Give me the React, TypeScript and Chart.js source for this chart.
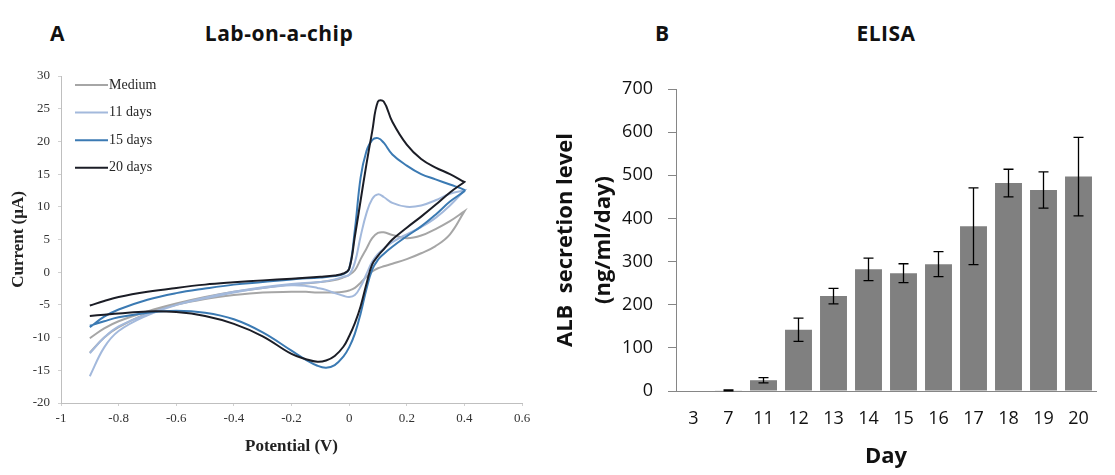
import React, { useEffect, useRef } from "react";
import { Chart, registerables } from "chart.js";

Chart.register(...registerables);

// ---------- Panel A: cyclic voltammograms ----------
const sweepForward = [-0.9, -0.85, -0.8, -0.7, -0.6, -0.5, -0.4, -0.3, -0.2, -0.1, -0.05, -0.02, 0, 0.02, 0.04, 0.06, 0.08, 0.1, 0.12, 0.15, 0.2, 0.25, 0.3, 0.35, 0.4];
const sweepReverse = [0.4, 0.35, 0.3, 0.25, 0.2, 0.15, 0.12, 0.1, 0.08, 0.06, 0.04, 0.02, 0, -0.02, -0.05, -0.08, -0.11, -0.15, -0.2, -0.3, -0.4, -0.5, -0.6, -0.7, -0.8, -0.85, -0.9];

const mediumForward = [-10.1, -8.6, -7.5, -6.0, -4.8, -3.8, -3.0, -2.4, -1.9, -1.5, -1.2, -0.8, -0.4, 0.3, 2.0, 3.6, 5.2, 6.0, 6.1, 5.7, 5.2, 5.6, 6.6, 7.8, 9.3];
const mediumReverse = [9.3, 5.8, 4.0, 2.9, 2.0, 1.3, 0.9, 0.6, 0.1, -0.7, -1.6, -2.4, -2.8, -3.0, -3.1, -3.1, -3.1, -3.0, -3.0, -3.1, -3.5, -4.1, -5.0, -6.3, -8.4, -10.0, -12.3];

const day11Forward = [-15.9, -11.5, -9.0, -6.6, -5.0, -3.9, -3.0, -2.3, -1.8, -1.5, -1.1, -0.7, -0.4, 1.5, 5.5, 9.0, 11.2, 11.9, 11.5, 10.6, 10.0, 10.2, 11.0, 12.0, 12.5];
const day11Reverse = [12.5, 10.2, 8.3, 6.9, 5.8, 4.6, 3.6, 2.8, 1.6, -0.3, -2.2, -3.5, -3.8, -3.6, -3.2, -2.7, -2.4, -2.1, -2.0, -2.4, -3.1, -4.0, -5.0, -6.4, -8.3, -10.0, -12.4];

const day15Forward = [-8.4, -6.8, -5.7, -4.2, -3.2, -2.5, -1.9, -1.5, -1.1, -0.8, -0.6, -0.3, 0.5, 6.5, 14.5, 18.5, 20.2, 20.5, 19.8, 18.0, 16.3, 15.0, 14.2, 13.4, 12.6];
const day15Reverse = [12.4, 10.8, 8.8, 7.0, 5.5, 3.9, 2.8, 1.9, 0.4, -2.6, -6.3, -9.4, -11.5, -12.9, -14.2, -14.6, -14.3, -13.4, -12.0, -9.2, -7.2, -6.2, -5.9, -6.2, -6.9, -7.5, -8.2];

const day20Forward = [-5.1, -4.4, -3.8, -3.0, -2.4, -1.9, -1.55, -1.25, -1.0, -0.7, -0.5, -0.2, 0.5, 5.5, 11.0, 16.5, 21.5, 26.1, 26.1, 23.0, 19.5, 17.3, 16.0, 15.0, 13.8];
const day20Reverse = [13.8, 12.2, 10.3, 8.5, 6.8, 5.0, 3.5, 2.5, 1.2, -1.8, -5.2, -7.8, -9.8, -11.4, -12.8, -13.5, -13.7, -13.3, -12.5, -9.8, -7.9, -6.7, -6.1, -6.0, -6.3, -6.5, -6.7];

const seriesLabels = ["Medium", "11 days", "15 days", "20 days"];
const seriesColors = ["#a6a6a6", "#a3b9dc", "#3b7ab3", "#1b1d26"];
const seriesForward = [mediumForward, day11Forward, day15Forward, day20Forward];
const seriesReverse = [mediumReverse, day11Reverse, day15Reverse, day20Reverse];

// ---------- Panel B: ELISA ----------
const days = ["3", "7", "11", "12", "13", "14", "15", "16", "17", "18", "19", "20"];
const albMean = [0, 1.5, 25, 142, 220, 282, 273, 294, 382, 482, 466, 497];
const albError = [0, 1, 6, 27, 18, 26, 22, 29, 89, 32, 42, 91];

const serif = '"Liberation Serif", "Times New Roman", serif';
const sans = '"Open Sans", "Noto Sans", sans-serif';

const cvLegendPlugin = {
  id: "cvLegend",
  afterDraw(chart: any) {
    const { ctx, chartArea } = chart;
    ctx.save();
    chart.data.datasets.forEach((ds: any, i: number) => {
      const y = chartArea.top + 9 + i * 27.6;
      const x0 = chartArea.left + 14;
      ctx.strokeStyle = ds.borderColor;
      ctx.lineWidth = 2;
      ctx.beginPath();
      ctx.moveTo(x0, y);
      ctx.lineTo(x0 + 33, y);
      ctx.stroke();
      ctx.fillStyle = "#262626";
      ctx.font = `14px ${serif}`;
      ctx.textBaseline = "middle";
      ctx.textAlign = "left";
      ctx.fillText(ds.label, x0 + 34, y);
    });
    ctx.restore();
  },
};

const errorBarPlugin = {
  id: "errorBars",
  afterDatasetsDraw(chart: any) {
    const { ctx } = chart;
    const yScale = chart.scales.y;
    const meta = chart.getDatasetMeta(0);
    const ds = chart.data.datasets[0];
    ctx.save();
    ctx.strokeStyle = "#000";
    ctx.lineWidth = 1.3;
    meta.data.forEach((bar: any, i: number) => {
      const err = ds.errors[i];
      if (!err) return;
      const v = ds.data[i];
      const top = yScale.getPixelForValue(v + err);
      const bottom = yScale.getPixelForValue(v - err);
      ctx.beginPath();
      ctx.moveTo(bar.x, top);
      ctx.lineTo(bar.x, bottom);
      ctx.moveTo(bar.x - 5, top);
      ctx.lineTo(bar.x + 5, top);
      ctx.moveTo(bar.x - 5, bottom);
      ctx.lineTo(bar.x + 5, bottom);
      ctx.stroke();
    });
    ctx.restore();
  },
};

function CVChart() {
  const ref = useRef<HTMLCanvasElement | null>(null);
  useEffect(() => {
    if (!ref.current) return;
    const datasets = seriesLabels.map((label, i) => ({
      label,
      data: sweepForward
        .map((x, j) => ({ x, y: seriesForward[i][j] }))
        .concat(sweepReverse.map((x, j) => ({ x, y: seriesReverse[i][j] }))),
      showLine: true,
      borderColor: seriesColors[i],
      backgroundColor: seriesColors[i],
      borderWidth: 2,
      pointRadius: 0,
      tension: 0.4,
      fill: false,
      order: seriesLabels.length - i,
    }));
    const chart = new Chart(ref.current, {
      type: "scatter",
      data: { datasets },
      options: {
        animation: false,
        responsive: false,
        maintainAspectRatio: false,
        layout: { padding: { left: 0, right: 18, top: 26, bottom: 0 } },
        plugins: { legend: { display: false }, tooltip: { enabled: false } },
        scales: {
          x: {
            type: "linear",
            min: -1,
            max: 0.6,
            ticks: {
              stepSize: 0.2,
              padding: 5,
              color: "#333",
              font: { family: serif, size: 13 },
              callback: (v: any) => String(Number(Number(v).toFixed(1))),
            },
            grid: { drawOnChartArea: false, tickLength: 3, color: "#d0d0d0" },
            border: { color: "#bfbfbf" },
            title: {
              display: true,
              text: "Potential (V)",
              color: "#222",
              font: { family: serif, size: 17, weight: "bold" },
              padding: { top: 0, bottom: 18 },
            },
            afterFit: (s: any) => {
              s.height = 72;
            },
          },
          y: {
            type: "linear",
            min: -20,
            max: 30,
            ticks: {
              stepSize: 5,
              padding: 8,
              color: "#333",
              font: { family: serif, size: 13 },
            },
            grid: { drawOnChartArea: false, tickLength: 3, color: "#d0d0d0" },
            border: { color: "#bfbfbf" },
            title: {
              display: true,
              text: "Current (μA)",
              color: "#222",
              font: { family: serif, size: 17, weight: "bold" },
              padding: { top: 8, bottom: 0 },
            },
            afterFit: (s: any) => {
              s.width = 61;
            },
          },
        },
      },
      plugins: [cvLegendPlugin],
    } as any);
    return () => chart.destroy();
  }, []);
  return <canvas ref={ref} width={540} height={425} style={{ position: "absolute", left: 0, top: 50, width: 540, height: 425 }} />;
}

function ElisaChart() {
  const ref = useRef<HTMLCanvasElement | null>(null);
  useEffect(() => {
    if (!ref.current) return;
    const chart = new Chart(ref.current, {
      type: "bar",
      data: {
        labels: days,
        datasets: [
          {
            label: "ALB",
            data: albMean,
            errors: albError,
            backgroundColor: "#808080",
            borderWidth: 0,
            barPercentage: 0.77,
            categoryPercentage: 1.0,
          } as any,
        ],
      },
      options: {
        animation: false,
        responsive: false,
        maintainAspectRatio: false,
        layout: { padding: { left: 0, right: 19, top: 39, bottom: 0 } },
        plugins: { legend: { display: false }, tooltip: { enabled: false } },
        scales: {
          x: {
            ticks: { padding: 17, color: "#111", font: { family: sans, size: 18 } },
            grid: { display: false, drawTicks: false },
            border: { color: "#868686" },
            title: {
              display: true,
              text: "Day",
              color: "#111",
              font: { family: sans, size: 22, weight: "bold" },
              padding: { top: 0, bottom: 5 },
            },
            afterFit: (s: any) => {
              s.height = 84;
            },
          },
          y: {
            min: 0,
            max: 700,
            ticks: { stepSize: 100, padding: 15, color: "#111", font: { family: sans, size: 18 } },
            grid: { drawOnChartArea: false, tickLength: 8, color: "#868686" },
            border: { color: "#868686" },
            title: {
              display: true,
              text: ["ALB  secretion level", "(ng/ml/day)"],
              color: "#111",
              font: { family: sans, size: 22, weight: "bold", lineHeight: 1.73 },
              padding: { top: 7, bottom: 0 },
            },
            afterFit: (s: any) => {
              s.width = 136;
            },
          },
        },
      },
      plugins: [errorBarPlugin],
    } as any);
    return () => chart.destroy();
  }, []);
  return <canvas ref={ref} width={575} height={425} style={{ position: "absolute", left: 540, top: 50, width: 575, height: 425 }} />;
}

const headStyle: React.CSSProperties = {
  position: "absolute",
  top: 22,
  height: 22,
  lineHeight: "22px",
  fontFamily: sans,
  fontWeight: 700,
  fontSize: 21,
  letterSpacing: "0.5px",
  color: "#111",
  whiteSpace: "nowrap",
};

export default function App() {
  return (
    <div style={{ position: "absolute", left: 0, top: 0, width: 1115, height: 475, background: "#fff", overflow: "hidden" }}>
      <div style={{ ...headStyle, left: 50 }}>A</div>
      <div style={{ ...headStyle, left: 179, width: 200, textAlign: "center" }}>Lab-on-a-chip</div>
      <div style={{ ...headStyle, left: 655 }}>B</div>
      <div style={{ ...headStyle, left: 786, width: 200, textAlign: "center" }}>ELISA</div>
      <CVChart />
      <ElisaChart />
    </div>
  );
}
